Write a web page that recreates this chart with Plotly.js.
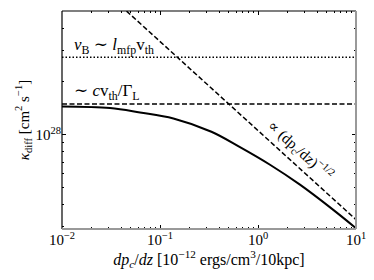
<!DOCTYPE html>
<html><head><meta charset="utf-8">
<script src="https://cdn.plot.ly/plotly-3.0.1.min.js"></script>
<style>html,body{margin:0;padding:0;background:#fff}</style>
</head><body><div id="chart" style="width:374px;height:280px"></div>
<script>
// Data
const gradP = [0.01, 0.0309, 0.0625, 0.137, 0.335, 0.655, 1.326, 2.68, 5.82, 10];
const kappaDiff = [1.45e28, 1.42e28, 1.339e28, 1.238e28, 1.04e28, 8.5e27, 6.75e27, 5.2e27, 3.75e27, 2.94e27];
const limitX = [0.01, 10];
const kappaBohm = [2.76e28, 2.76e28];       // nu_B ~ l_mfp v_th
const kappaLight = [1.494e28, 1.494e28];    // ~ c v_th / Gamma_L
const powerX = [0.04, 10];
const powerY = [5.4e28, 3.29e27];           // ∝ (dp_c/dz)^-1/2
const xTickVals = [0.01, 0.1, 1, 10];
const xTickText = ['10<sup>−2</sup>', '10<sup>−1</sup>', '10<sup>0</sup>', '10<sup>1</sup>'];
const yTickVals = [1e28];
const yTickText = ['10<sup>28</sup>'];
const xMinor = [];
[0.01, 0.1, 1].forEach(d => { for (let k = 2; k <= 9; k++) xMinor.push(d * k); });
const yMinor = [3e27, 4e27, 5e27, 6e27, 7e27, 8e27, 9e27, 2e28, 3e28, 4e28, 5e28];

const font = 'Liberation Serif, DejaVu Serif, serif';
const traces = [
  {x: limitX, y: kappaBohm, mode: 'lines', line: {color: 'black', width: 1.5, dash: '1.5px,2px'}},
  {x: limitX, y: kappaLight, mode: 'lines', line: {color: 'black', width: 1.5, dash: '5px,2.5px'}},
  {x: powerX, y: powerY, mode: 'lines', line: {color: 'black', width: 1.5, dash: '5px,2.5px'}},
  {x: gradP, y: kappaDiff, mode: 'lines', line: {color: 'black', width: 2, shape: 'spline', smoothing: 1.0}}
];
const axisCommon = {
  showgrid: false, zeroline: false, showline: false,
  ticks: 'inside', ticklen: 4, tickwidth: 1, tickcolor: 'black', mirror: 'allticks',
  tickfont: {family: font, size: 15, color: 'black'},
};
const layout = {
  width: 374, height: 280,
  margin: {l: 62, r: 18, t: 11, b: 51},
  paper_bgcolor: 'white', plot_bgcolor: 'white',
  showlegend: false,
  font: {family: font, color: 'black'},
  xaxis: Object.assign({}, axisCommon, {
    type: 'log', range: [-2, 1],
    tickmode: 'array', tickvals: xTickVals, ticktext: xTickText,
    minor: {tickmode: 'array', tickvals: xMinor, ticks: 'inside', ticklen: 2, tickcolor: 'black'},
    title: {text: '<i>dp<sub>c</sub></i>/<i>dz</i> [10<sup>−12</sup> ergs/cm<sup>3</sup>/10kpc]', font: {family: font, size: 16}, standoff: 4}
  }),
  yaxis: Object.assign({}, axisCommon, {
    type: 'log', range: [Math.log10(2.91e27), Math.log10(5.06e28)],
    tickmode: 'array', tickvals: yTickVals, ticktext: yTickText,
    minor: {tickmode: 'array', tickvals: yMinor, ticks: 'inside', ticklen: 2, tickcolor: 'black'},
    title: {text: '<i>κ</i><sub>diff</sub> [cm<sup>2</sup> s<sup>−1</sup>]', font: {family: font, size: 15}, standoff: 2}
  }),
  shapes: [
    {type: 'line', xref: 'paper', yref: 'paper', x0: 0, x1: 0, y0: 0, y1: 1, line: {color: 'black', width: 1.2}},
    {type: 'line', xref: 'paper', yref: 'paper', x0: 0, x1: 1, y0: 1, y1: 1, line: {color: 'black', width: 1.2}},
    {type: 'line', xref: 'paper', yref: 'paper', x0: 1, x1: 1, y0: 0, y1: 1, line: {color: '#999', width: 2}},
    {type: 'line', xref: 'paper', yref: 'paper', x0: 0, x1: 1, y0: 0, y1: 0, line: {color: '#999', width: 2}}
  ],
  annotations: [
    {xref: 'paper', yref: 'paper', x: 0.034, y: 0.839, xanchor: 'left', yanchor: 'middle', showarrow: false,
     text: '<i>ν</i><sub>B</sub> ∼ <i>l</i><sub>mfp</sub>v<sub>th</sub>', font: {family: font, size: 17, color: 'black'}},
    {xref: 'paper', yref: 'paper', x: 0.034, y: 0.628, xanchor: 'left', yanchor: 'middle', showarrow: false,
     text: '∼ <i>c</i>v<sub>th</sub>/Γ<sub>L</sub>', font: {family: font, size: 17, color: 'black'}},
    {xref: 'paper', yref: 'paper', x: 0.81, y: 0.362, xanchor: 'center', yanchor: 'middle', showarrow: false, textangle: 42,
     text: '∝ (dp<sub>c</sub>/dz)<sup>−1/2</sup>', font: {family: font, size: 15, color: 'black'}}
  ]
};
Plotly.newPlot('chart', traces, layout, {staticPlot: true, displayModeBar: false});
</script>
</body></html>
